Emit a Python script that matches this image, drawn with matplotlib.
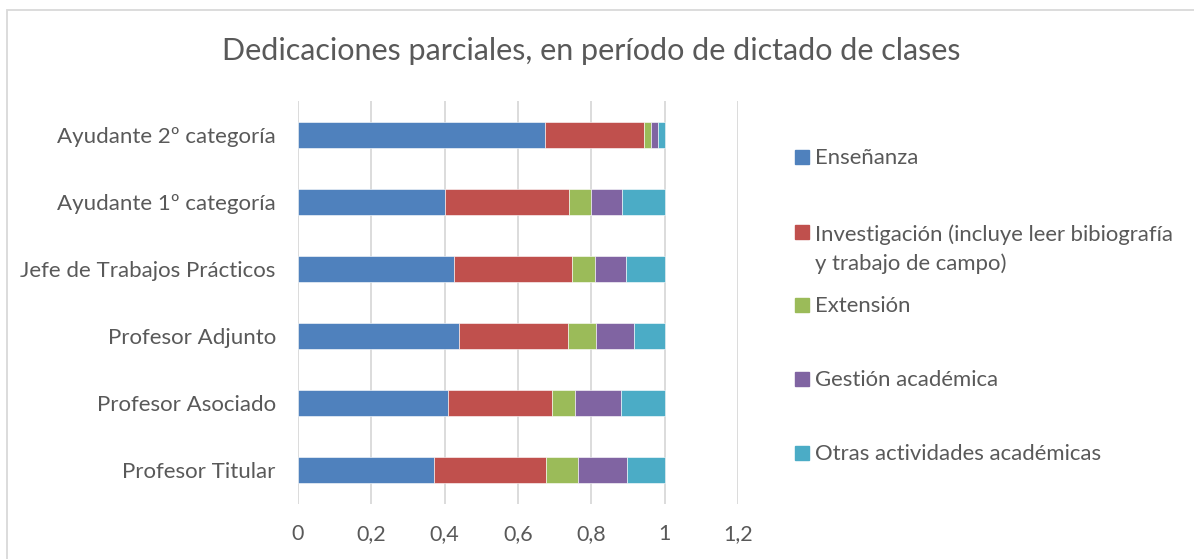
import matplotlib
matplotlib.use("Agg")
import matplotlib.pyplot as plt
from matplotlib.patches import Rectangle
import numpy as np

categories = ["Profesor Titular", "Profesor Asociado", "Profesor Adjunto",
              "Jefe de Trabajos Prácticos", "Ayudante 1º categoría", "Ayudante 2º categoría"]
series_names = ["Enseñanza",
                "Investigación (incluye leer bibiografía\ny trabajo de campo)",
                "Extensión", "Gestión académica", "Otras actividades académicas"]
ensenanza     = [0.370, 0.410, 0.439, 0.425, 0.400, 0.674]
investigacion = [0.305, 0.282, 0.297, 0.321, 0.338, 0.269]
extension     = [0.089, 0.064, 0.076, 0.064, 0.060, 0.019]
gestion       = [0.133, 0.125, 0.104, 0.085, 0.086, 0.019]
otras         = [0.103, 0.119, 0.084, 0.105, 0.116, 0.019]
series_values = [ensenanza, investigacion, extension, gestion, otras]
colors = ["#4F81BD", "#C0504D", "#9BBB59", "#8064A2", "#4BACC6"]
xticks = [0, 0.2, 0.4, 0.6, 0.8, 1.0, 1.2]
xtick_labels = ["0", "0,2", "0,4", "0,6", "0,8", "1", "1,2"]
title = "Dedicaciones parciales, en período de dictado de clases"

FONT = "Lato"
TXT = "#595959"
W, H = 1194, 559
fig = plt.figure(figsize=(W / 100, H / 100), dpi=100)
ax = fig.add_axes([298 / W, 1 - 503.5 / H, (738 - 298) / W, (503.5 - 101.5) / H])

y = np.arange(len(categories))
left = np.zeros(len(categories))
for vals, c, name in zip(series_values, colors, series_names):
    ax.barh(y, vals, left=left, height=0.4, color=c, edgecolor="white",
            linewidth=0.4, label=name, zorder=3)
    left = left + np.array(vals)

ax.set_xlim(0, 1.2)
ax.set_ylim(-0.5, len(categories) - 0.5)
ax.set_xticks(xticks)
ax.set_xticklabels(xtick_labels, fontsize=15.5, color=TXT, family=FONT)
ax.set_yticks(y)
ax.set_yticklabels(categories, fontsize=16, color=TXT, family=FONT)
ax.tick_params(axis="x", length=0, pad=15)
ax.tick_params(axis="y", length=0, pad=16)
ax.grid(axis="x", color="#D9D9D9", linewidth=1.3, zorder=0)
for s in ax.spines.values():
    s.set_visible(False)

fig.text(591 / W, 1 - 51 / H, title, ha="center", va="center",
         fontsize=22, color=TXT, family=FONT)

# chart border (left and top visible)
fig.patches.append(Rectangle((7 / W, -0.2), 1.5, 1.2 - 10 / H, transform=fig.transFigure,
                             fill=False, edgecolor="#D9D9D9", linewidth=1.3))

# legend
leg_y = [157, 232, 305, 379, 453]
for name, c, yy in zip(series_names, colors, leg_y):
    fig.patches.append(Rectangle((795 / W, 1 - (yy + 7) / H), 14 / W, 14 / H,
                                 transform=fig.transFigure, color=c))
    nlines = name.count("\n")
    fig.text(815 / W, 1 - (yy + 7 + 31 * nlines) / H, name, ha="left", va="baseline",
             fontsize=15.9, color=TXT, family=FONT, linespacing=1.48)

fig.savefig("out.png", dpi=100)
